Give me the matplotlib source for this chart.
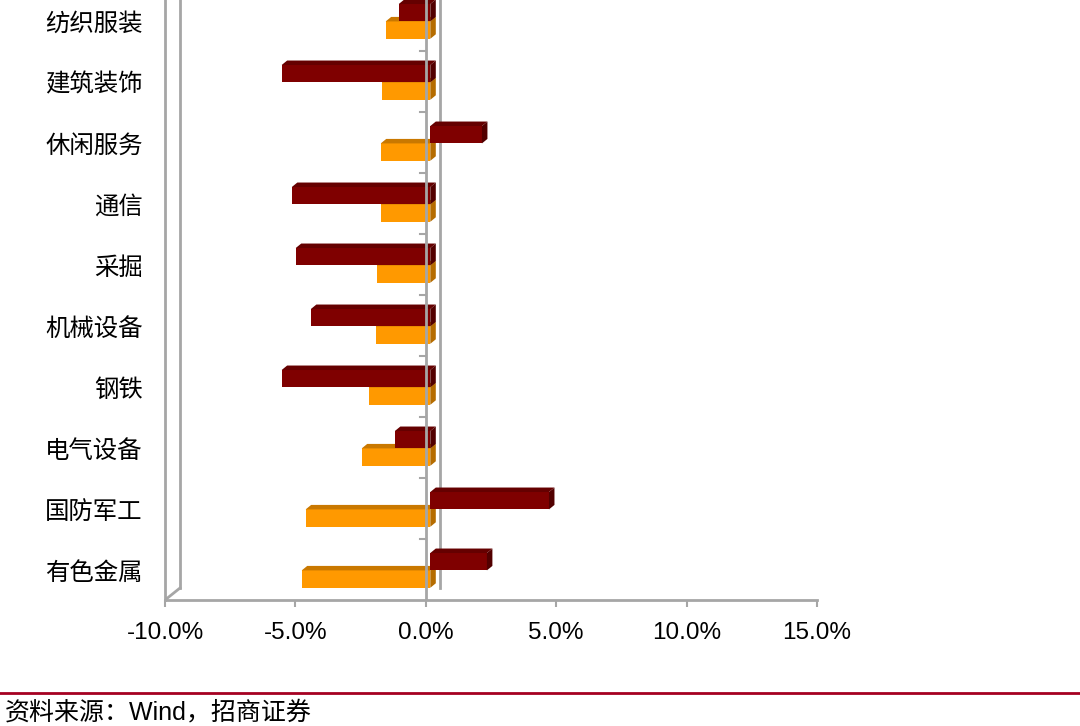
import matplotlib
matplotlib.use("Agg")
import matplotlib.pyplot as plt
from matplotlib.patches import Polygon

# data (bottom to top)
categories = ['有色金属', '国防军工', '电气设备', '钢铁', '机械设备',
              '采掘', '通信', '休闲服务', '建筑装饰', '纺织服装']
series_dark = [2.17, 4.55, -1.36, -5.70, -4.58, -5.16, -5.31, 1.98, -5.70, -1.21]
series_orange = [-4.93, -4.78, -2.63, -2.36, -2.09, -2.05, -1.90, -1.90, -1.86, -1.71]
xticks = [-10, -5, 0, 5, 10, 15]

W, H = 1080, 726
fig = plt.figure(figsize=(W / 100, H / 100), dpi=100)
ax = fig.add_axes([165 / W, (H - 600) / H, 652 / W, 600 / H])

x0, x1 = -10, 15
ppx = 652 / (x1 - x0)      # pixels per percent
ppy = 61.0                 # pixels per category
ax.set_xlim(x0, x1)
ax.set_ylim(-0.5, -0.5 + 600 / ppy)

grey = '#A6A6A6'

# fake-3d offsets
off = 4.5 / ppx            # bars' zero sits slightly behind the front axis
dx, dy = 5.5 / ppx, 4.5 / ppy
wall_dx, wall_dy = 15 / ppx, 12 / ppy
bar_h = 0.285


def bar3d(y_bot, v, front, top, side):
    a, b = sorted((off, v + off))
    yt = y_bot + bar_h
    ax.add_patch(Polygon([(a, y_bot), (b, y_bot), (b, yt), (a, yt)],
                         closed=True, facecolor=front, edgecolor='none', zorder=3))
    ax.add_patch(Polygon([(a, yt), (b, yt), (b + dx, yt + dy), (a + dx, yt + dy)],
                         closed=True, facecolor=top, edgecolor='none', zorder=3))
    ax.add_patch(Polygon([(b, y_bot), (b + dx, y_bot + dy), (b + dx, yt + dy), (b, yt)],
                         closed=True, facecolor=side, edgecolor='none', zorder=3))


for i in range(len(categories)):
    bar3d(i - 0.30, series_orange[i], '#FF9900', '#C97800', '#B56C00')
    bar3d(i - 0.015, series_dark[i], '#7F0000', '#650000', '#520000')

# walls / axes
ytop = ax.get_ylim()[1]
ax.plot([x0 + wall_dx, x0 + wall_dx], [-0.5 + wall_dy, ytop], color=grey, lw=2, zorder=1)
ax.plot([x0, x0 + wall_dx], [-0.5, -0.5 + wall_dy], color=grey, lw=2, zorder=1)
ax.plot([wall_dx * 0.95, wall_dx * 0.95], [-0.5 + wall_dy, ytop], color=grey, lw=2, zorder=1)
ax.plot([0, 0], [-0.5, ytop], color=grey, lw=2, zorder=4)
for i in range(len(categories)):
    ax.plot([-6 / ppx, 0], [i + 0.5, i + 0.5], color=grey, lw=1.5, zorder=4)

for s in ['top', 'right']:
    ax.spines[s].set_visible(False)
for s in ['left', 'bottom']:
    ax.spines[s].set_color(grey)
    ax.spines[s].set_linewidth(2)

ax.set_xticks(xticks)
ax.set_xticklabels([f'{t:.1f}%' for t in xticks], family='Liberation Sans', fontsize=17.5)
ax.tick_params(axis='x', length=5, width=1.5, color=grey, pad=10.5)
ax.set_yticks(range(len(categories)))
ax.set_yticklabels(categories, family='Noto Sans CJK SC', fontsize=17.6)
ax.tick_params(axis='y', length=0, pad=16)

# footer
fig.add_artist(plt.Line2D([0, 1], [1 - 693 / H, 1 - 693 / H], color='#A50021', lw=2))
fig.text(5 / W, 1 - 712 / H, '资料来源：Wind，招商证券', family=['Liberation Sans', 'Noto Sans CJK SC'],
         fontsize=18, va='center', ha='left')

fig.savefig('out.png', dpi=100)
